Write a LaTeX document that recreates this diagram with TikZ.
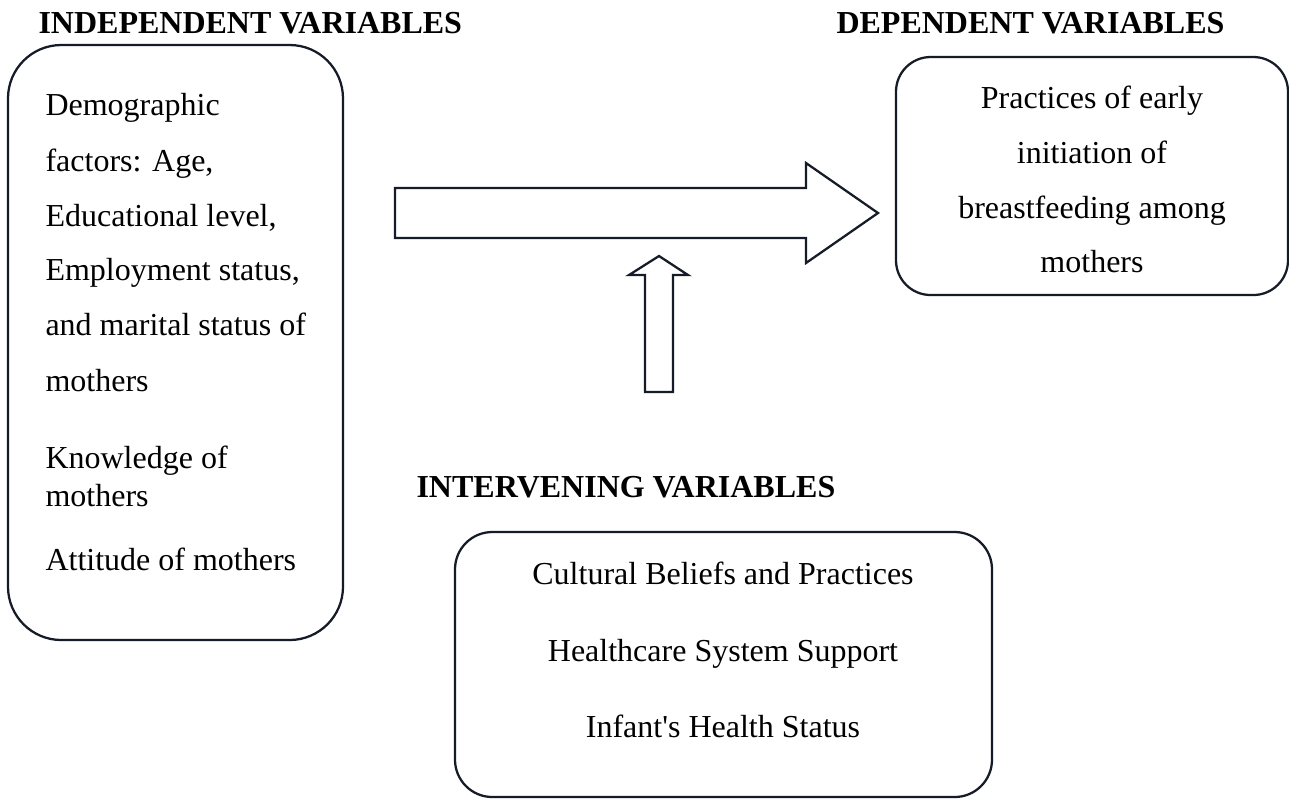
\documentclass[tikz,border=0pt]{standalone}
\usepackage{fontspec}
\setmainfont{Liberation Serif}
\newfontfamily\plainserif{Liberation Serif}
\usetikzlibrary{fit}
\definecolor{lc}{RGB}{22,27,40}
\begin{document}
\begin{tikzpicture}[x=0.375pt,y=-0.375pt,
  box/.style={draw=lc, line width=0.85pt, inner sep=0pt},
  blockarrow/.style={draw=lc, line width=0.85pt, line join=miter, fill=white},
  txt/.style={font=\fontsize{12}{14}\selectfont, inner sep=0pt},
  head/.style={font=\fontsize{12}{14}\selectfont\bfseries, inner sep=0pt}]
\useasboundingbox (0,0) rectangle (1289,799);

% headings
\node[head, anchor=base west] (hind) at (38,33) {INDEPENDENT VARIABLES};
\node[head, anchor=base east] (hdep) at (1225,33) {DEPENDENT VARIABLES};
\node[head, anchor=base west] (hint) at (416,497) {INTERVENING VARIABLES};

% boxes
\node[box, rounded corners=20pt, fit={(8,45)(343,640)}] (indep) {};
\node[box, rounded corners=13pt, fit={(896,57)(1288,295)}] (dep) {};
\node[box, rounded corners=14pt, fit={(455,532)(992,797)}] (inter) {};

% left box text
\node[txt, anchor=base west] (l1) at (45,115) {Demographic};
\node[txt, anchor=base west] (l2) at (45,171) {factors: Age,};
\node[txt, anchor=base west] (l3) at (45,226) {Educational level,};
\node[txt, anchor=base west] (l4) at (45,280) {Employment status,};
\node[txt, anchor=base west] (l5) at (45,335) {and marital status of};
\node[txt, anchor=base west] (l6) at (45,391) {mothers};
\node[txt, anchor=base west] (l7) at (45,468) {Knowledge of};
\node[txt, anchor=base west] (l8) at (45,506) {mothers};
\node[txt, anchor=base west] (l9) at (45,570) {Attitude of mothers};

% right box text
\node[txt, anchor=base] (r1) at (1092,108) {Practices of early};
\node[txt, anchor=base] (r2) at (1092,163) {initiation of};
\node[txt, anchor=base] (r3) at (1092,218) {breastfeeding among};
\node[txt, anchor=base] (r4) at (1092,272) {mothers};

% bottom box text
\node[txt, anchor=base] (b1) at (723,584) {Cultural Beliefs and Practices};
\node[txt, anchor=base] (b2) at (723,661) {Healthcare System Support};
\node[txt, anchor=base] (b3) at (723,737) {Infant{\plainserif'}s Health Status};

% block arrows
\draw[blockarrow] (395,188) -- (806,188) -- (806,163) -- (878,213) -- (806,263) -- (806,238) -- (395,238) -- cycle;
\draw[blockarrow] (645,392) -- (645,275) -- (629,275) -- (659,256) -- (688,275) -- (673,275) -- (673,392) -- cycle;
\end{tikzpicture}
\end{document}
